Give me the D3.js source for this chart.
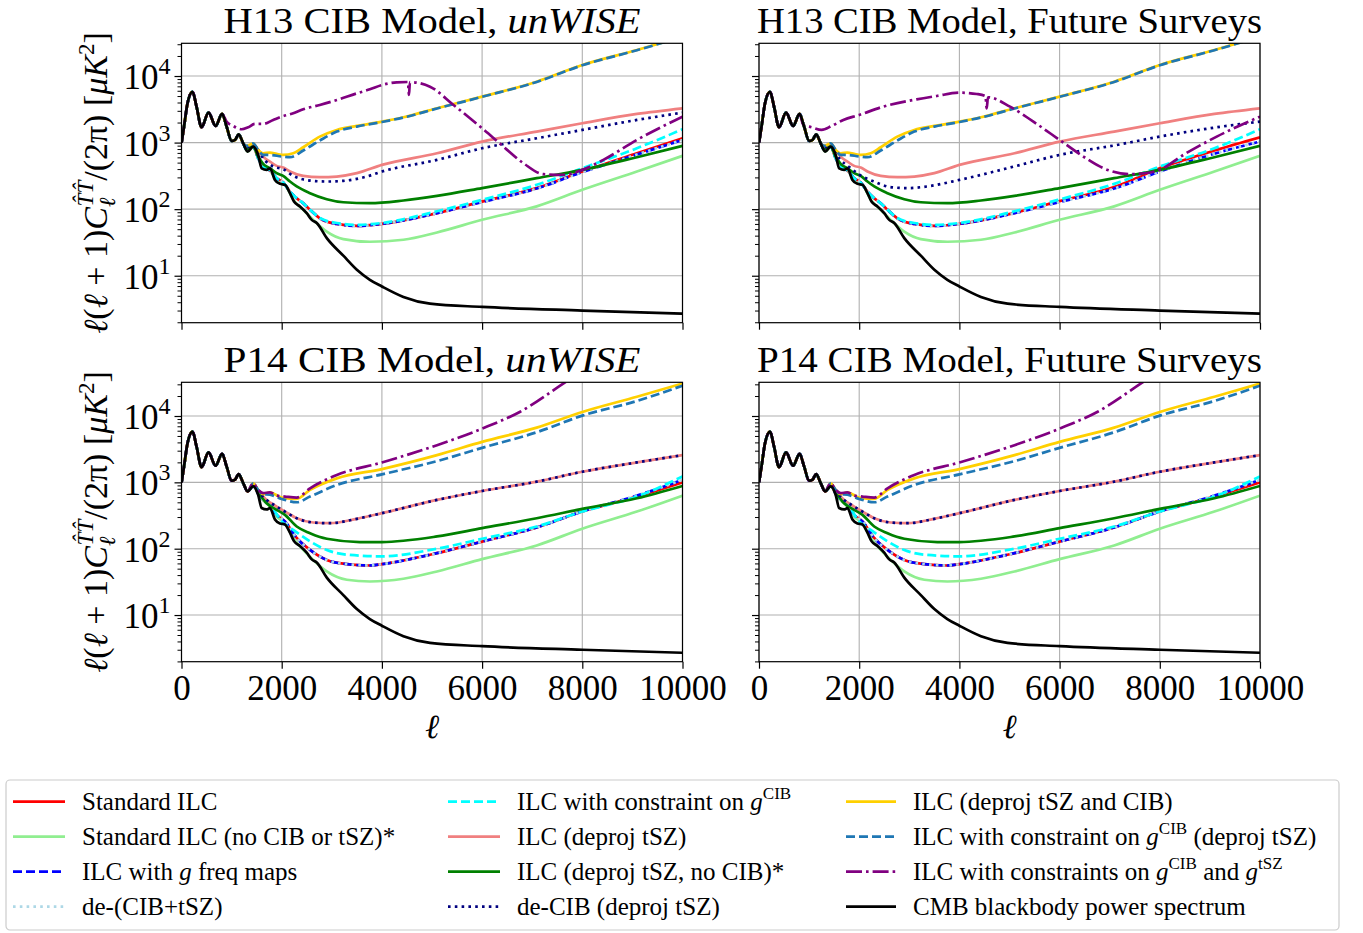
<!DOCTYPE html>
<html><head><meta charset="utf-8">
<script src="https://cdn.jsdelivr.net/npm/d3@7"></script>
<style>
body{margin:0;background:#fff}
svg{display:block}
text{font-family:"Liberation Serif","Times New Roman",serif;fill:#000}
</style>
</head><body>
<svg id="chart" width="1363" height="933"></svg>
<script>
// ---------------- DATA (ell, D_ell in muK^2) ----------------
const xTickValues = [0, 2000, 4000, 6000, 8000, 10000];
const yDecades = [10, 100, 1000, 10000];
const panelTitles = [
  ["H13 CIB Model, ", "unWISE"],
  ["H13 CIB Model, Future Surveys", ""],
  ["P14 CIB Model, ", "unWISE"],
  ["P14 CIB Model, Future Surveys", ""]
];

const cmbSpectrum = [[2,1000],[60,1950],[120,3890],[220,5800],[300,3470],[400,1700],[540,2820],[680,1780],[810,2690],[900,1740],[1000,1060],[1070,1100],[1140,1330],[1230,980],[1320,730],[1430,870],[1530,650],[1600,410],[1700,390],[1765,410],[1865,275],[1965,240],[2065,232],[2165,174],[2245,130],[2365,110],[2500,87],[2600,69],[2700,62],[2900,36.7],[3230,20],[3500,12.3],[3760,8.7],[4000,6.9],[4430,4.8],[4960,3.8],[6000,3.4],[8000,3.0],[10000,2.7]];

// H13 model, shared by both H13 panels
const h13_deprojTszCib = [[1300,891],[1430,977],[1530,776],[1630,692],[1765,708],[1900,676],[2030,653],[2230,692],[2430,851],[2760,1230],[3100,1549],[3500,1778],[4000,2065],[4430,2399],[5100,3273],[6000,4898],[7090,8222],[8000,14620],[9090,24550],[10000,38900]];
const h13_gCibDeprojTsz = [[1300,891],[1430,977],[1530,776],[1630,653],[1765,653],[2000,617],[2165,603],[2430,759],[2760,1072],[3100,1462],[3500,1740],[4000,2040],[4430,2380],[5100,3250],[6000,4870],[7090,8150],[8000,14500],[9090,24400],[10000,38700]];
const h13_deprojTsz = [[1300,870],[1430,955],[1565,692],[1665,582],[1765,519],[1900,447],[2030,422],[2165,367],[2430,316],[2760,302],[3100,309],[3500,347],[4000,462],[5100,692],[6000,1035],[7090,1462],[8000,1950],[9090,2692],[10000,3273]];
const h13_deprojTszNoCib = [[1300,800],[1430,871],[1530,617],[1630,479],[1765,412],[1900,347],[2030,316],[2165,260],[2300,219],[2565,174],[2900,141],[3230,127],[3760,123],[4430,135],[5100,158],[6000,207],[7090,292],[8000,389],[9090,603],[10000,891]];
const h13_noCibTsz = [[1430,871],[1530,617],[1630,412],[1765,389],[1900,260],[2065,232],[2230,138],[2430,98],[2630,69],[2900,46],[3230,35.5],[3760,32.4],[4430,34.7],[5100,44.7],[6000,69.2],[7090,110],[8000,195],[9090,367],[10000,631]];

// H13 unWISE
const h13u_standard = [[1300,780],[1430,871],[1530,582],[1630,437],[1765,380],[1900,292],[2030,251],[2165,184],[2300,146],[2430,123],[2565,98],[2760,73],[3100,60],[3500,56],[4000,60],[5100,87],[6000,130],[7090,207],[8000,367],[9090,692],[10000,1161]];
const h13u_gFreq = [[1300,780],[1430,871],[1530,582],[1630,437],[1765,380],[1900,292],[2030,251],[2165,184],[2300,146],[2430,123],[2565,98],[2760,73],[3100,60],[3500,56],[4000,60],[5100,87],[6000,128],[7090,204],[8000,360],[9090,661],[10000,1096]];
const h13u_deCibTsz = h13u_gFreq;
const h13u_gCib = [[1300,780],[1430,871],[1530,582],[1630,437],[1765,380],[1900,292],[2030,251],[2165,184],[2300,146],[2430,123],[2565,98],[2760,74],[3100,62],[3500,58],[4000,62],[5100,93],[6000,138],[7090,232],[8000,412],[9090,822],[10000,1585]];
const h13u_deCibDeprojTsz = [[1300,850],[1430,923],[1665,537],[1830,437],[2030,398],[2230,316],[2565,269],[2900,260],[3230,266],[3695,309],[4000,367],[5100,550],[6000,822],[7090,1161],[8000,1549],[9090,2188],[10000,2818]];
const h13u_gCibTsz = [[810,2690],[900,2065],[1030,1778],[1200,1585],[1330,1698],[1465,1905],[1630,1905],[1830,2188],[2000,2455],[2230,2754],[2430,3162],[2760,3673],[3100,4365],[3500,5495],[3760,6310],[4000,7328],[4295,8035],[4520,8130],[4540,5190],[4560,8100],[4960,6918],[5430,3673],[6000,1641],[6425,871],[6825,490],[7225,335],[7625,327],[8000,389],[8420,550],[9090,1096],[10000,2455]];

// H13 Future Surveys
const h13f_standard = [[1300,780],[1430,871],[1530,582],[1630,437],[1765,380],[1900,292],[2030,251],[2165,184],[2300,146],[2430,123],[2565,98],[2760,73],[3100,60],[3500,56],[4000,60],[5100,88],[6000,132],[7090,215],[8000,412],[9090,760],[10000,1202]];
const h13f_gFreq = [[1300,780],[1430,871],[1530,582],[1630,437],[1765,380],[1900,292],[2030,251],[2165,184],[2300,146],[2430,123],[2565,98],[2760,73],[3100,60],[3500,56],[4000,60],[5100,87],[6000,128],[7090,204],[8000,367],[9090,680],[10000,1035]];
const h13f_deCibTsz = h13f_gFreq;
const h13f_gCib = [[1300,780],[1430,871],[1530,582],[1630,437],[1765,380],[1900,292],[2030,251],[2165,184],[2300,146],[2430,123],[2565,98],[2760,74],[3100,62],[3500,58],[4000,62],[5100,93],[6000,140],[7090,240],[8000,437],[9090,822],[10000,1585]];
const h13f_deCibDeprojTsz = [[1300,850],[1430,900],[1617,560],[1817,420],[2000,330],[2282,262],[2615,215],[2948,207],[3347,219],[4000,275],[5143,447],[6000,653],[7140,920],[8000,1230],[9136,1698],[10000,2065]];
const h13f_gCibTsz = [[810,2690],[885,1841],[1050,1698],[1250,1549],[1450,1778],[1683,2188],[2000,2600],[2480,3467],[3147,4467],[3547,5012],[4000,5623],[4345,5370],[4520,5000],[4545,3270],[4570,4800],[5010,3467],[5476,2065],[6000,1096],[6474,617],[6874,412],[7406,335],[7805,355],[8000,389],[8470,653],[9136,1230],[10000,2455]];

// P14 model (both P14 panels)
const p14_standard = [[1430,880],[1565,600],[1765,457],[1900,324],[2065,257],[2300,145],[2565,96],[2900,67.6],[3300,58.5],[3760,55.8],[4000,58.5],[5100,85.7],[6000,128],[7090,209],[8000,363],[9090,611],[10000,1000]];
const p14_noCibTsz = [[1430,880],[1565,600],[1765,430],[1900,305],[2065,242],[2230,145],[2430,96],[2630,67.6],[2900,45.4],[3300,34],[3760,32],[4430,35.2],[5100,45.4],[6000,69.5],[7090,112],[8000,200],[9090,363],[10000,631]];
const p14_gFreq = [[1430,880],[1565,600],[1765,457],[1900,324],[2065,257],[2300,145],[2565,96],[2900,67.6],[3300,58.5],[3760,55.8],[4000,58.5],[5100,85.7],[6000,128],[7090,209],[8000,365],[9090,630],[10000,1090]];
const p14_deCibTsz = p14_gFreq;
const p14_gCib = [[1430,880],[1565,620],[1765,470],[2000,257],[2230,192],[2565,129],[2900,95.5],[3300,81.3],[4000,76.7],[5100,100],[6000,141],[7090,216],[8000,363],[9090,611],[10000,1222]];
const p14_deprojTsz = [[1430,950],[1565,686],[1700,543],[1900,431],[2065,363],[2300,288],[2630,248],[2960,242],[3500,282],[4000,343],[5100,543],[6000,741],[7090,1023],[8000,1445],[9090,1995],[10000,2570]];
const p14_deprojTszNoCib = [[1430,900],[1565,646],[1700,484],[1900,385],[2065,324],[2300,216],[2565,171],[2900,141],[3560,126],[4000,126],[5100,153],[6000,204],[7090,288],[8000,398],[9090,575],[10000,883]];
const p14_deCibDeprojTsz = p14_deprojTsz;
const p14_deprojTszCib = [[1430,968],[1530,769],[1630,661],[1765,708],[2000,589],[2300,562],[2565,769],[3100,1148],[4000,1585],[5100,2570],[6000,4074],[7090,6683],[8000,11500],[9090,19500],[10000,30900]];
const p14_gCibDeprojTsz = [[1430,968],[1530,769],[1630,661],[1765,650],[2000,562],[2300,501],[2565,610],[3100,912],[4000,1318],[5100,2089],[6000,3311],[7090,5689],[8000,10120],[9090,16830],[10000,28640]];
const p14_gCibTsz = [[1430,968],[1530,769],[1630,686],[1765,708],[1900,631],[2065,611],[2300,589],[2565,813],[3100,1288],[4000,1995],[5100,3631],[6000,6457],[6760,11610],[7625,30900],[8200,60000]];

const seriesOrder = ["standard","noCibTsz","gFreq","deCibTsz","gCib","deprojTsz","deprojTszNoCib","deCibDeprojTsz","deprojTszCib","gCibDeprojTsz","gCibTsz","cmb"];

const panelData = [
  {standard:h13u_standard,noCibTsz:h13_noCibTsz,gFreq:h13u_gFreq,deCibTsz:h13u_deCibTsz,gCib:h13u_gCib,deprojTsz:h13_deprojTsz,deprojTszNoCib:h13_deprojTszNoCib,deCibDeprojTsz:h13u_deCibDeprojTsz,deprojTszCib:h13_deprojTszCib,gCibDeprojTsz:h13_gCibDeprojTsz,gCibTsz:h13u_gCibTsz,cmb:cmbSpectrum},
  {standard:h13f_standard,noCibTsz:h13_noCibTsz,gFreq:h13f_gFreq,deCibTsz:h13f_deCibTsz,gCib:h13f_gCib,deprojTsz:h13_deprojTsz,deprojTszNoCib:h13_deprojTszNoCib,deCibDeprojTsz:h13f_deCibDeprojTsz,deprojTszCib:h13_deprojTszCib,gCibDeprojTsz:h13_gCibDeprojTsz,gCibTsz:h13f_gCibTsz,cmb:cmbSpectrum},
  {standard:p14_standard,noCibTsz:p14_noCibTsz,gFreq:p14_gFreq,deCibTsz:p14_deCibTsz,gCib:p14_gCib,deprojTsz:p14_deprojTsz,deprojTszNoCib:p14_deprojTszNoCib,deCibDeprojTsz:p14_deCibDeprojTsz,deprojTszCib:p14_deprojTszCib,gCibDeprojTsz:p14_gCibDeprojTsz,gCibTsz:p14_gCibTsz,cmb:cmbSpectrum},
  {standard:p14_standard,noCibTsz:p14_noCibTsz,gFreq:p14_gFreq,deCibTsz:p14_deCibTsz,gCib:p14_gCib,deprojTsz:p14_deprojTsz,deprojTszNoCib:p14_deprojTszNoCib,deCibDeprojTsz:p14_deCibDeprojTsz,deprojTszCib:p14_deprojTszCib,gCibDeprojTsz:p14_gCibDeprojTsz,gCibTsz:p14_gCibTsz,cmb:cmbSpectrum}
];

// legend labels: [text, kind] kind: n normal, i italic, s superscript
const legendLabels = {
  standard:[["Standard ILC","n"]],
  noCibTsz:[["Standard ILC (no CIB or tSZ)*","n"]],
  gFreq:[["ILC with ","n"],["g","i"],[" freq maps","n"]],
  deCibTsz:[["de-(CIB+tSZ)","n"]],
  gCib:[["ILC with constraint on ","n"],["g","i"],["CIB","s"]],
  deprojTsz:[["ILC (deproj tSZ)","n"]],
  deprojTszNoCib:[["ILC (deproj tSZ, no CIB)*","n"]],
  deCibDeprojTsz:[["de-CIB (deproj tSZ)","n"]],
  deprojTszCib:[["ILC (deproj tSZ and CIB)","n"]],
  gCibDeprojTsz:[["ILC with constraint on ","n"],["g","i"],["CIB","s"],[" (deproj tSZ)","n"]],
  gCibTsz:[["ILC with constraints on ","n"],["g","i"],["CIB","s"],[" and ","n"],["g","i"],["tSZ","s"]],
  cmb:[["CMB blackbody power spectrum","n"]]
};

// ---------------- STYLE ----------------
const LW = 2.7;
const seriesStyle = {
  standard:{color:"#ff0000",dash:null},
  noCibTsz:{color:"#90ee90",dash:null},
  gFreq:{color:"#0000ff",dash:"9,4"},
  deCibTsz:{color:"#add8e6",dash:"2.6,4.2"},
  gCib:{color:"#00ffff",dash:"9,4"},
  deprojTsz:{color:"#f08080",dash:null},
  deprojTszNoCib:{color:"#008000",dash:null},
  deCibDeprojTsz:{color:"#000080",dash:"2.6,4.2"},
  deprojTszCib:{color:"#ffd000",dash:null},
  gCibDeprojTsz:{color:"#1f77b4",dash:"9,4"},
  gCibTsz:{color:"#800080",dash:"16,4,2.6,4"},
  cmb:{color:"#000000",dash:null}
};

const layout = {
  cols:[[181.5,682.5],[759,1260]],
  rows:[[43.3,322.7],[382.3,661.7]],
  yDomains:[[1.97,31000],[1.98,32200]],
  titleWidths:[417,505,417,505]
};

const svg = d3.select("#chart");
const defs = svg.append("defs");

function withCMB(arr){
  const start = arr[0][0];
  return cmbSpectrum.filter(d => d[0] < start).concat(arr);
}

function richText(sel, parts, size){
  let raised = false;
  parts.forEach(([t,k]) => {
    const ts = sel.append("tspan").text(t);
    if (k === "i") ts.attr("font-style","italic");
    if (k === "s") {
      ts.attr("font-size", size*0.68).attr("dy", -size*0.42);
      raised = true;
    } else if (raised) {
      ts.attr("dy", size*0.42);
      raised = false;
    }
  });
}

panelData.forEach((data, i) => {
  const col = i % 2, row = Math.floor(i/2);
  const [x0,x1] = layout.cols[col];
  const [y0,y1] = layout.rows[row];
  const x = d3.scaleLinear().domain([0,10000]).range([x0,x1]);
  const y = d3.scaleLog().domain(layout.yDomains[row]).range([y1,y0]);
  const g = svg.append("g");

  defs.append("clipPath").attr("id","clip"+i)
    .append("rect").attr("x",x0).attr("y",y0).attr("width",x1-x0).attr("height",y1-y0);

  // grid
  g.append("g").selectAll("line").data(xTickValues).join("line")
    .attr("x1",d=>x(d)).attr("x2",d=>x(d)).attr("y1",y0).attr("y2",y1)
    .attr("stroke","#b0b0b0").attr("stroke-width",1.1);
  g.append("g").selectAll("line").data(yDecades).join("line")
    .attr("x1",x0).attr("x2",x1).attr("y1",d=>y(d)).attr("y2",d=>y(d))
    .attr("stroke","#b0b0b0").attr("stroke-width",1.1);

  // lines
  const line = d3.line().x(d=>x(d[0])).y(d=>y(d[1])).curve(d3.curveMonotoneX);
  const lg = g.append("g").attr("clip-path","url(#clip"+i+")");
  seriesOrder.forEach(key => {
    const st = seriesStyle[key];
    const pts = key === "cmb" ? data[key] : withCMB(data[key]);
    lg.append("path").datum(pts).attr("d", line)
      .attr("fill","none").attr("stroke",st.color).attr("stroke-width",LW)
      .attr("stroke-dasharray", st.dash).attr("stroke-linejoin","round");
  });

  // frame
  g.append("rect").attr("x",x0).attr("y",y0).attr("width",x1-x0).attr("height",y1-y0)
    .attr("fill","none").attr("stroke","#000").attr("stroke-width",1.2);

  // x axis
  const xa = g.append("g").attr("transform",`translate(0,${y1})`)
    .call(d3.axisBottom(x).tickValues(xTickValues).tickSize(7).tickSizeOuter(0)
      .tickFormat(row===1 ? d3.format("d") : () => ""));
  xa.select(".domain").remove();
  xa.selectAll("line").attr("stroke-width",1.2);
  xa.selectAll("text").attr("font-size",35).attr("font-family",'"Liberation Serif",serif')
    .attr("y",13).attr("dy","0.71em").attr("fill","#000");

  // y axis major + minor
  const minor = [];
  for (let k=0;k<5;k++) for (let m=2;m<10;m++){ const v=m*Math.pow(10,k); if (v>=layout.yDomains[row][0] && v<=layout.yDomains[row][1]) minor.push(v); }
  const ya = g.append("g").attr("transform",`translate(${x0},0)`)
    .call(d3.axisLeft(y).tickValues(yDecades).tickSize(7).tickSizeOuter(0).tickFormat(()=>""));
  ya.select(".domain").remove();
  ya.selectAll("line").attr("stroke-width",1.2);
  const ym = g.append("g").attr("transform",`translate(${x0},0)`)
    .call(d3.axisLeft(y).tickValues(minor).tickSize(4).tickSizeOuter(0).tickFormat(()=>""));
  ym.select(".domain").remove();
  ym.selectAll("line").attr("stroke-width",1);

  if (col === 0) {
    yDecades.forEach(v => {
      const t = g.append("text").attr("x", x0-11).attr("y", y(v)+13).attr("text-anchor","end").attr("font-size",35);
      t.append("tspan").text("10");
      t.append("tspan").attr("font-size",24).attr("dy",-15).text(String(Math.round(Math.log10(v))));
    });
    // y label
    const cy = (y0+y1)/2;
    const yl = g.append("text").attr("transform",`translate(107,${cy}) rotate(-90)`)
      .attr("text-anchor","middle").attr("font-size",34);
    yl.append("tspan").attr("font-style","italic").text("ℓ");
    yl.append("tspan").text("(");
    yl.append("tspan").attr("font-style","italic").text("ℓ");
    yl.append("tspan").text(" + 1)");
    yl.append("tspan").attr("font-style","italic").text("C");
    yl.append("tspan").attr("font-style","italic").attr("font-size",23).attr("dy",8).text("ℓ");
    yl.append("tspan").attr("font-style","italic").attr("font-size",23).attr("dx",-9).attr("dy",-22).text("T\u0302T\u0302");
    yl.append("tspan").attr("dy",14).text("/(2π) [");
    yl.append("tspan").attr("font-style","italic").text("μK");
    yl.append("tspan").attr("font-size",23).attr("dy",-13).text("2");
    yl.append("tspan").attr("dy",13).text("]");
  }

  // title
  const tt = g.append("text").attr("x",(x0+x1)/2).attr("y", y0-10).attr("text-anchor","middle")
    .attr("font-size",36).attr("textLength",layout.titleWidths[i]).attr("lengthAdjust","spacingAndGlyphs");
  tt.append("tspan").text(panelTitles[i][0]);
  if (panelTitles[i][1]) tt.append("tspan").attr("font-style","italic").text(panelTitles[i][1]);

  // x label
  if (row === 1) {
    g.append("text").attr("x",(x0+x1)/2).attr("y",738).attr("text-anchor","middle")
      .attr("font-size",34).attr("font-style","italic").text("ℓ");
  }
});

// ---------------- LEGEND ----------------
const legendCols = [
  ["standard","noCibTsz","gFreq","deCibTsz"],
  ["gCib","deprojTsz","deprojTszNoCib","deCibDeprojTsz"],
  ["deprojTszCib","gCibDeprojTsz","gCibTsz","cmb"]
];
const legX = [[13,65,82],[448,500,517],[846,896,913]];
const legRowY = [801.7,836.7,871.7,906.7];
const leg = svg.append("g");
leg.append("rect").attr("x",6).attr("y",780).attr("width",1333).attr("height",150).attr("rx",4)
  .attr("fill","#fff").attr("stroke","#cccccc").attr("stroke-width",1.2);
legendCols.forEach((keys, c) => {
  keys.forEach((key, r) => {
    const st = seriesStyle[key];
    const yy = legRowY[r];
    leg.append("line").attr("x1",legX[c][0]).attr("x2",legX[c][1]).attr("y1",yy).attr("y2",yy)
      .attr("stroke",st.color).attr("stroke-width",LW).attr("stroke-dasharray",st.dash);
    const t = leg.append("text").attr("x",legX[c][2]).attr("y",yy+8).attr("font-size",25);
    richText(t, legendLabels[key], 25);
  });
});
</script>
</body></html>
